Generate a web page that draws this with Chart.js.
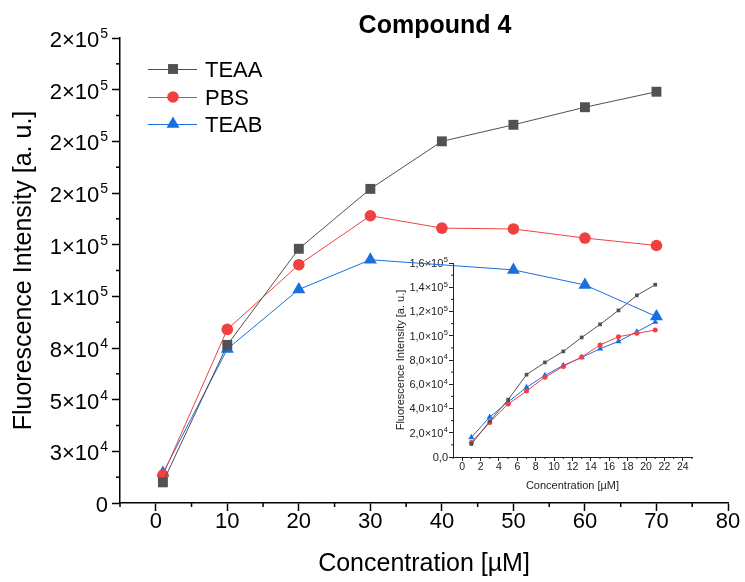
<!DOCTYPE html>
<html>
<head>
<meta charset="utf-8">
<script src="https://cdn.jsdelivr.net/npm/chart.js@4.4.1/dist/chart.umd.min.js"></script>
<style>
  html, body { margin: 0; padding: 0; background: #fff; }
  #wrap { position: relative; width: 745px; height: 582px; }
  #main { position: absolute; left: 0; top: 0; z-index: 2; }
  #inset { position: absolute; left: 385px; top: 255px; z-index: 1; }
</style>
</head>
<body>
<div id="wrap">
  <canvas id="inset" width="315" height="240"></canvas>
  <canvas id="main" width="745" height="582"></canvas>
</div>
<script>
// ---------- data (main chart) ----------
const chartTitle = 'Compound 4';
const seriesNames = ['TEAA', 'PBS', 'TEAB'];
const mainX = [1, 10, 20, 30, 40, 50, 60, 70];
const mainTEAA = [10000, 76500, 123000, 152000, 175000, 183000, 191500, 199000];
const mainPBS  = [13500, 84000, 115300, 139000, 133000, 132600, 128200, 124600];
const mainTEAB = [14500, 74500, 103300, 117700, null, 112800, 105500, 90200];
const mainYTickLabels = ['0', '3×10⁴', '5×10⁴', '8×10⁴', '1×10⁵', '1×10⁵', '2×10⁵', '2×10⁵', '2×10⁵', '2×10⁵'];
const mainXTitle = 'Concentration [µM]';
const mainYTitle = 'Fluorescence Intensity [a. u.]';

// ---------- data (inset) ----------
const insetX = [1, 3, 5, 7, 9, 11, 13, 15, 17, 19, 21];
const insetTEAA = [10700, 29500, 47300, 67900, 78000, 87100, 98600, 109400, 120900, 133300, 142100];
const insetPBS  = [12000, 28500, 43700, 54400, 65700, 74700, 82500, 92400, 99200, 102000, 104700];
const insetTEAB = [16200, 33000, 45400, 57400, 67300, 75500, 82100, 89300, 95300, 103300, 111300];
const insetYTickLabels = ['0,0', '2,0×10⁴', '4,0×10⁴', '6,0×10⁴', '8,0×10⁴', '1,0×10⁵', '1,2×10⁵', '1,4×10⁵', '1,6×10⁵'];

// ---------- styles ----------
const FONT = '"Liberation Sans", Arial, Helvetica, sans-serif';
const colors = ['#515151', '#F14040', '#1A6FDF'];
const styles = ['rect', 'circle', 'triangle'];
Chart.defaults.font.family = FONT;
Chart.defaults.color = '#000';

function toXY(xs, ys) { return xs.map((x, i) => ({ x: x, y: ys[i] })); }

const SUP = { '⁰': '0', '¹': '1', '²': '2', '³': '3', '⁴': '4', '⁵': '5', '⁶': '6', '⁷': '7', '⁸': '8', '⁹': '9' };

const minorTicks = {
  id: 'minorTicks',
  afterDraw(chart, args, opts) {
    const ctx = chart.ctx;
    ctx.save();
    ctx.strokeStyle = opts.color || '#000';
    ctx.lineWidth = opts.width || 1;
    const len = opts.len || 4;
    Object.values(chart.scales).forEach(sc => {
      sc.ticks.forEach(t => {
        if (t.label !== '') return;
        const p = sc.getPixelForValue(t.value);
        ctx.beginPath();
        if (sc.isHorizontal()) {
          ctx.moveTo(p, sc.top); ctx.lineTo(p, sc.top + len);
        } else {
          ctx.moveTo(sc.right, p); ctx.lineTo(sc.right - len, p);
        }
        ctx.stroke();
      });
    });
    ctx.restore();
  }
};

// draws y tick labels with real superscript exponents
const supLabels = {
  id: 'supLabels',
  afterDraw(chart, args, o) {
    const sc = chart.scales.y;
    const ctx = chart.ctx;
    ctx.save();
    ctx.fillStyle = o.color;
    ctx.textAlign = 'right';
    ctx.textBaseline = 'alphabetic';
    const xr = sc.right - o.offset;
    sc.ticks.forEach(t => {
      if (!t.label) return;
      const y = sc.getPixelForValue(t.value) + o.size * 0.716 / 2 + o.shift;
      const m = String(t.label).match(/^(.*×10)([⁰¹²³⁴⁵⁶⁷⁸⁹]+)$/);
      if (m) {
        const exp = m[2].split('').map(c => SUP[c]).join('');
        ctx.font = o.supSize + 'px ' + FONT;
        const w = ctx.measureText(exp).width;
        ctx.fillText(exp, xr, y - o.raise);
        ctx.font = o.size + 'px ' + FONT;
        ctx.fillText(m[1], xr - w - o.gap, y);
      } else {
        ctx.font = o.size + 'px ' + FONT;
        ctx.fillText(t.label, xr, y);
      }
    });
    ctx.restore();
  }
};

function drawMarker(ctx, style, x, y, r, color) {
  ctx.fillStyle = color;
  ctx.beginPath();
  if (style === 'rect') {
    const s = r * Math.SQRT1_2;
    ctx.rect(x - s, y - s, 2 * s, 2 * s);
  } else if (style === 'circle') {
    ctx.arc(x, y, r, 0, Math.PI * 2);
  } else {
    ctx.moveTo(x, y - r);
    ctx.lineTo(x + r * Math.sin(2 * Math.PI / 3), y + r / 2);
    ctx.lineTo(x - r * Math.sin(2 * Math.PI / 3), y + r / 2);
    ctx.closePath();
  }
  ctx.fill();
}

const decor = {
  id: 'decor',
  afterDraw(chart) {
    const ctx = chart.ctx;
    ctx.save();
    // title
    ctx.fillStyle = '#000';
    ctx.font = 'bold 25px ' + FONT;
    ctx.textAlign = 'center';
    ctx.textBaseline = 'alphabetic';
    ctx.fillText(chartTitle, 435, 33);
    // legend
    const rows = [69, 97, 124];
    chart.data.datasets.forEach((ds, i) => {
      const y = rows[i];
      ctx.strokeStyle = ds.borderColor;
      ctx.lineWidth = 1;
      ctx.beginPath(); ctx.moveTo(148, y + 0.5); ctx.lineTo(197, y + 0.5); ctx.stroke();
      drawMarker(ctx, ds.pointStyle, 173, y, ds.pointRadius, ds.pointBackgroundColor);
      ctx.fillStyle = '#000';
      ctx.font = '22px ' + FONT;
      ctx.textAlign = 'left';
      ctx.fillText(ds.label, 205, y + 8);
    });
    ctx.restore();
  }
};

const mainRadius = [7, 5.8, 7.5];
new Chart(document.getElementById('main'), {
  type: 'line',
  data: {
    datasets: [mainTEAA, mainPBS, mainTEAB].map((ys, i) => ({
      label: seriesNames[i],
      data: toXY(mainX, ys),
      borderColor: colors[i],
      backgroundColor: colors[i],
      pointBackgroundColor: colors[i],
      pointBorderColor: colors[i],
      pointBorderWidth: 0,
      pointStyle: styles[i],
      pointRadius: mainRadius[i],
      borderWidth: 1,
      spanGaps: true,
      tension: 0,
      clip: false
    }))
  },
  options: {
    responsive: false,
    animation: false,
    devicePixelRatio: 1,
    layout: { padding: { top: 38, right: 17, left: 0, bottom: 0 } },
    plugins: {
      legend: { display: false }, tooltip: { enabled: false },
      minorTicks: { len: 4, width: 1.5 },
      supLabels: { color: '#000', size: 22, supSize: 14, raise: 9, gap: 1, offset: 12, shift: 1 }
    },
    scales: {
      x: {
        type: 'linear',
        min: -5, max: 80,
        afterFit: s => { s.height = 79; },
        border: { display: true, color: '#000', width: 1.5 },
        grid: {
          drawOnChartArea: false, drawTicks: true, tickLength: 8, tickWidth: 1.5,
          tickColor: c => (c.tick && c.tick.value % 10 === 0) ? '#000' : 'rgba(0,0,0,0)'
        },
        ticks: {
          stepSize: 5, autoSkip: false, maxRotation: 0, padding: 0,
          font: { size: 22, lineHeight: 1 }, color: '#000',
          callback: v => (v % 10 === 0 ? String(v) : '')
        },
        title: { display: true, text: mainXTitle, font: { size: 25, lineHeight: 1.2 }, padding: { top: 0, bottom: 3 }, color: '#000' }
      },
      y: {
        type: 'linear',
        min: 0, max: 225000,
        afterFit: s => { s.width = 120; },
        border: { display: true, color: '#000', width: 1.5 },
        grid: {
          drawOnChartArea: false, drawTicks: true, tickLength: 8, tickWidth: 1.5,
          tickColor: c => (c.tick && c.tick.value % 25000 === 0) ? '#000' : 'rgba(0,0,0,0)'
        },
        ticks: {
          stepSize: 12500, autoSkip: false, padding: 4,
          font: { size: 22, lineHeight: 1 }, color: 'rgba(0,0,0,0)',
          callback: v => (v % 25000 === 0 ? mainYTickLabels[Math.round(v / 25000)] : '')
        },
        title: { display: true, text: mainYTitle, font: { size: 25, lineHeight: 1.2 }, padding: { top: 9, bottom: 0 }, color: '#000' }
      }
    }
  },
  plugins: [minorTicks, supLabels, decor]
});

const insetRadius = [2.6, 2.5, 3.6];
new Chart(document.getElementById('inset'), {
  type: 'line',
  data: {
    datasets: [insetTEAA, insetPBS, insetTEAB].map((ys, i) => ({
      label: seriesNames[i],
      data: toXY(insetX, ys),
      borderColor: colors[i],
      backgroundColor: colors[i],
      pointBackgroundColor: colors[i],
      pointBorderColor: colors[i],
      pointBorderWidth: 0,
      pointStyle: styles[i],
      pointRadius: insetRadius[i],
      borderWidth: 1,
      tension: 0,
      clip: false
    }))
  },
  options: {
    responsive: false,
    animation: false,
    devicePixelRatio: 1,
    layout: { padding: { top: 8, right: 8, left: 0, bottom: 0 } },
    plugins: {
      legend: { display: false }, tooltip: { enabled: false },
      minorTicks: { len: 2, width: 1, color: '#222' },
      supLabels: { color: '#222', size: 11, supSize: 7.5, raise: 4.5, gap: 0.5, offset: 5, shift: 0 }
    },
    scales: {
      x: {
        type: 'linear',
        min: -1, max: 25,
        afterFit: s => { s.height = 38; },
        border: { display: true, color: '#222', width: 1 },
        grid: {
          drawOnChartArea: false, drawTicks: true, tickLength: 4, tickWidth: 1,
          tickColor: c => (c.tick && c.tick.value % 2 === 0 && c.tick.value >= 0) ? '#222' : 'rgba(0,0,0,0)'
        },
        ticks: {
          stepSize: 1, autoSkip: false, maxRotation: 0, padding: 1,
          font: { size: 10.5, lineHeight: 1 }, color: '#222',
          callback: v => ((v % 2 === 0 && v >= 0 && v <= 24) ? String(v) : '')
        },
        title: { display: true, text: mainXTitle, font: { size: 11, lineHeight: 1.2 }, padding: { top: 0, bottom: 2 }, color: '#222' }
      },
      y: {
        type: 'linear',
        min: 0, max: 160000,
        afterFit: s => { s.width = 68; },
        border: { display: true, color: '#222', width: 1 },
        grid: {
          drawOnChartArea: false, drawTicks: true, tickLength: 4, tickWidth: 1,
          tickColor: c => (c.tick && c.tick.value % 20000 === 0) ? '#222' : 'rgba(0,0,0,0)'
        },
        ticks: {
          stepSize: 10000, autoSkip: false, padding: 1,
          font: { size: 11, lineHeight: 1 }, color: 'rgba(0,0,0,0)',
          callback: v => (v % 20000 === 0 ? insetYTickLabels[Math.round(v / 20000)] : '')
        },
        title: { display: true, text: mainYTitle, font: { size: 11, lineHeight: 1.2 }, padding: { top: 9, bottom: 0 }, color: '#222' }
      }
    }
  },
  plugins: [minorTicks, supLabels]
});
</script>
</body>
</html>
